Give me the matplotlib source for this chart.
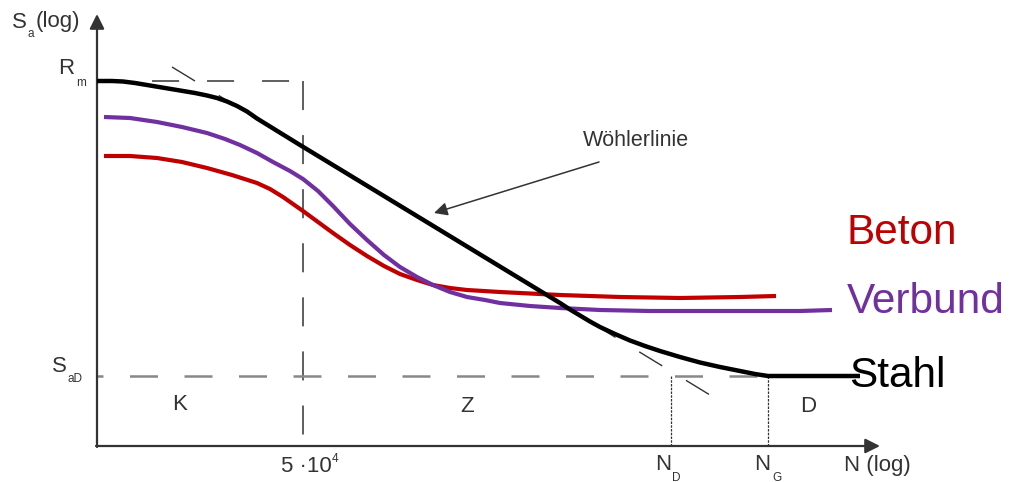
import matplotlib.pyplot as plt

plt.rcParams["font.family"] = ["Liberation Sans", "DejaVu Sans"]

# curves (pixel-like schematic coordinates)
stahl_x = [97, 112, 123, 135, 150, 165, 180, 195, 207, 217, 227, 237, 247,
           257, 270, 300, 560, 570, 580, 590, 600, 615, 630, 645, 660, 680,
           700, 720, 740, 755, 768, 800, 860]
stahl_y = [81, 81, 81.5, 83, 85.5, 88, 90.5, 93, 95.5, 98, 101.5, 106,
           111.5, 118.5, 126.5, 145, 303, 309.5, 315.5, 321.5, 327, 334,
           340.5, 346, 351, 357, 362.5, 367, 371, 374, 376, 376, 376]

verbund_x = [104, 130, 157, 182, 207, 225, 240, 257, 273, 290, 303, 318,
             333, 350, 367, 384, 400, 417, 433, 450, 467, 485, 500, 530,
             560, 600, 650, 700, 750, 800, 832]
verbund_y = [117, 118, 122, 127, 133, 139, 145, 153, 162, 171, 179, 191,
             206, 224, 240, 255, 267, 277, 285, 292, 297, 300, 303, 306,
             308, 310, 311, 311, 311, 311, 310]

beton_x = [104, 130, 157, 182, 207, 232, 257, 270, 283, 293, 303, 318,
           333, 350, 367, 384, 400, 417, 433, 450, 467, 500, 560, 620,
           680, 740, 776]
beton_y = [156, 156, 158, 162, 168, 175, 183, 189, 197, 204, 211, 222,
           233, 245, 256, 266, 274, 280, 285, 288, 290, 292, 295, 297,
           298, 297, 296]

# reference lines
r_m = 81
s_ad = 376
n_1 = 303
n_d = 671
n_g = 768
asym_x = [172, 710]
asym_y = [67, 395]

fig = plt.figure(figsize=(10.1, 4.82), dpi=100)
ax = fig.add_axes([0, 0, 1, 1])
ax.set_xlim(0, 1010)
ax.set_ylim(482, 0)
ax.axis("off")

# axes with arrow heads
ax.annotate("", xy=(97, 14), xytext=(97, 447),
            arrowprops=dict(arrowstyle="-|>", color="#333333", lw=1.6,
                            mutation_scale=22, shrinkA=0, shrinkB=0))
ax.annotate("", xy=(880, 446), xytext=(96, 446),
            arrowprops=dict(arrowstyle="-|>", color="#333333", lw=1.6,
                            mutation_scale=22, shrinkA=0, shrinkB=0))

# dashed helper lines
ax.plot([125, n_1], [r_m, r_m], color="#333333", lw=1.1,
        ls=(18.3, (17.7, 18.3)))
ax.plot([n_1, n_1], [r_m, 436], color="#333333", lw=1.1,
        ls=(0, (19, 16.4)))
ax.plot([97, n_g], [s_ad, s_ad], color="#888888", lw=1.8,
        ls=(8.8, (11.2, 10.6)))
ax.plot([n_d, n_d], [s_ad, 446], color="#333333", lw=0.9, ls=(0, (2, 1)))
ax.plot([n_g, n_g], [s_ad, 446], color="#333333", lw=0.9, ls=(0, (2, 1)))
ax.plot(asym_x, asym_y, color="#333333", lw=1.0, ls=(0, (19.4, 20)),
        zorder=1)

# curves
ax.plot(beton_x, beton_y, color="#C00000", lw=3.0, solid_capstyle="butt")
ax.plot(verbund_x, verbund_y, color="#7030A0", lw=3.0,
        solid_capstyle="butt")
ax.plot(stahl_x, stahl_y, color="black", lw=3.2, solid_capstyle="butt",
        zorder=3)

# Wöhlerlinie pointer
ax.annotate("", xy=(434, 213), xytext=(599, 162),
            arrowprops=dict(arrowstyle="-|>", color="#333333", lw=1.1,
                            mutation_scale=20, shrinkA=0, shrinkB=0))
ax.text(636, 141, "Wöhlerlinie", fontsize=15.5, color="#333333",
        ha="center", va="center")

# axis labels
lab = dict(fontsize=16, color="#333333", va="center")
sub = dict(fontsize=8.5, color="#333333", va="center")
ax.text(12, 22, "S", ha="left", **lab)
ax.text(28, 34, "a", ha="left", **sub)
ax.text(36, 22, "(log)", ha="left", **lab)
ax.text(58, 68, "R", ha="left", **lab)
ax.text(76, 83, "m", ha="left", **sub)
ax.text(52, 367, "S", ha="left", **lab)
ax.text(68, 379, "aD", ha="left", **sub)
ax.text(180, 405, "K", ha="center", **lab)
ax.text(467, 406, "Z", ha="center", **lab)
ax.text(808, 406, "D", ha="center", **lab)
ax.text(281, 466, "5 ·10", ha="left", **lab)
ax.text(332, 459, "4", ha="left", **sub)
ax.text(663, 465, "N", ha="center", **lab)
ax.text(672, 478, "D", ha="left", **sub)
ax.text(762, 465, "N", ha="center", **lab)
ax.text(772, 478, "G", ha="left", **sub)
ax.text(844, 466, "N (log)", ha="left", **lab)

# material labels
ax.text(847, 233, "Beton", fontsize=30.5, color="#C00000", va="center")
ax.text(847, 302, "Verbund", fontsize=30.5, color="#7030A0", va="center")
ax.text(849, 376, "Stahl", fontsize=30.5, color="black", va="center")

fig.savefig("out.png", dpi=100)
